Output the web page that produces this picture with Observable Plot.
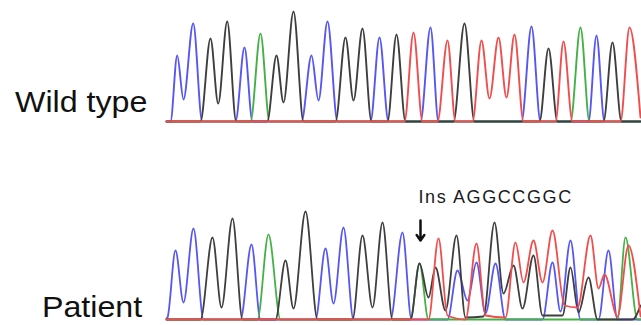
<!DOCTYPE html>
<html><head><meta charset="utf-8">
<script src="https://cdn.jsdelivr.net/npm/d3@7"></script>
<script src="https://cdn.jsdelivr.net/npm/@observablehq/plot@0.6"></script>
<style>
body{margin:0;background:#fff;}
#wrap{position:relative;width:641px;height:325px;overflow:hidden;font-family:"Liberation Sans",Arial,sans-serif;}
#top,#bot{position:absolute;left:0;}
#top{top:0}
#bot{top:180px}
#bot svg text{letter-spacing:1.6px;}
.lbl{position:absolute;font-size:29px;color:#111;white-space:nowrap;line-height:1;transform:scaleX(1.11);transform-origin:0 0;}
</style></head><body>
<div id="wrap">
 <div id="top"></div><div id="bot"></div>
 <div class="lbl" style="left:15px;top:88px">Wild type</div>
 <div class="lbl" style="left:42px;top:293px">Patient</div>
</div>
<script>
// Trace colours (base calls)
const bases = ["C", "A", "G", "T"];
const colors = ["#5656f4", "#45b045", "#3e3e3e", "#f24c4c"];

// Wild type traces: [scan position, signal]
const wtC = [[166,0],[170,0],[176.7,66],[183,22],[192.7,98],[201.7,0],[235,0],[244,74],[252,0],[301,0],[311,66],[318,21],[327,100],[337,0],[370,0],[379,84],[388,0],[420,0],[430,94],[438,0],[521,0],[531,95],[540,0],[588,0],[596,86],[604,0],[640,0]];
const wtA = [[166,0],[250,0],[260,88],[269,0],[570,0],[580,94],[589,0],[640,0]];
const wtG = [[166,0],[200,0],[210,83],[217.7,18],[226.7,100],[235.7,0],[266.7,0],[276,66],[283,19],[293,110],[303,0],[335,0],[345,84],[353,21],[362,93],[371,0],[387,0],[396,87],[405,0],[453,0],[464,98],[474,0],[539,0],[548,73],[557,0],[603,0],[612,79],[621,0],[640,0]];
const wtT = [[166,0],[404,0],[413,89],[422,0],[437,0],[447,81],[455,0],[472,0],[481,81],[489,23],[498,84],[506,24],[514,87],[523,0],[555,0],[563,80],[572,0],[620,0],[629,94],[640,4]];

// Patient traces
const ptC = [[166,1],[167,2],[175,69],[183,17],[193,91],[203,0],[240,0],[251,75],[260,0],[315,0],[325,71],[333,16],[343,92],[353,0],[390,0],[402,87],[411,0],[447,0],[457,49],[467,19],[476,57],[485,6],[495,56],[505,0],[542,0],[552,57],[560,8],[570,79],[580,0],[598,0],[608,69],[617,0],[640,0]];
const ptA = [[166,0],[257,0],[268,85],[280,0],[410,0],[419,56],[428,0],[617,0],[625,82],[637,0],[640,0]];
const ptG = [[166,0],[200,0],[212,82],[221,12],[232,101],[242,0],[275,0],[285,59],[293,11],[305,108],[317,0],[352,0],[362,84],[372,12],[382,97],[392,0],[410,0],[419,56],[428,22],[435,52],[445,9],[456,84],[465,2],[483,3],[494,97],[503,26],[513,54],[522,11],[533,64],[542,4],[562,4],[570,52],[578,7],[588,42],[597,0],[632,0],[640,14]];
const ptT = [[166,0],[428,0],[438,81],[447,4],[465,0],[476,76],[485,4],[505,2],[515,77],[523,37],[533,79],[542,37],[552,89],[564,14],[577,12],[590,84],[598,31],[604,45],[617,3],[628,74],[640,3]];

// Insertion annotation
const insLabel = ["Ins AGGCCGGC"];
const insTextPos = [[418, 122]];
const insArrow = [[420, 99, 79]];

function rows(traces) {
  const out = [];
  for (const [base, arr] of traces) for (const [x, v] of arr) out.push({base, x, v});
  return out;
}

function chart(data, height, mb, ymax, sw, extra) {
  return Plot.plot({
    width: 641, height, marginLeft: 166, marginRight: 0, marginTop: 1, marginBottom: mb,
    x: {domain: [166, 641], axis: null},
    y: {domain: [0, ymax], axis: null},
    color: {domain: bases, range: colors},
    style: {background: "transparent", overflow: "visible"},
    marks: [
      Plot.line(data, {x: "x", y: "v", z: "base", stroke: "base", strokeWidth: sw, curve: "monotone-x"}),
      ...extra
    ]
  });
}

const topData = rows([["C", wtC], ["A", wtA], ["G", wtG], ["T", wtT]]);
const botData = rows([["C", ptC], ["A", ptA], ["G", ptG], ["T", ptT]]);

const ann = insTextPos.map(([x, v], i) => ({x, v, label: insLabel[i]}));
const arr = insArrow.map(([x, v1, v2]) => ({x, v1, v2}));

document.getElementById("top").append(chart(topData, 126, 5, 120, 1.9, []));
document.getElementById("bot").append(chart(botData, 145, 6, 138, 1.8, [
  Plot.arrow(arr, {x1: "x", x2: "x", y1: "v1", y2: "v2", stroke: "#111", strokeWidth: 2.5, headLength: 8, headAngle: 70}),
  Plot.text(ann, {x: "x", y: "v", text: "label", textAnchor: "start", fontSize: 18, fill: "#1a1a1a", fontFamily: "Liberation Sans, Arial, sans-serif"})
]));
</script>
</body></html>
